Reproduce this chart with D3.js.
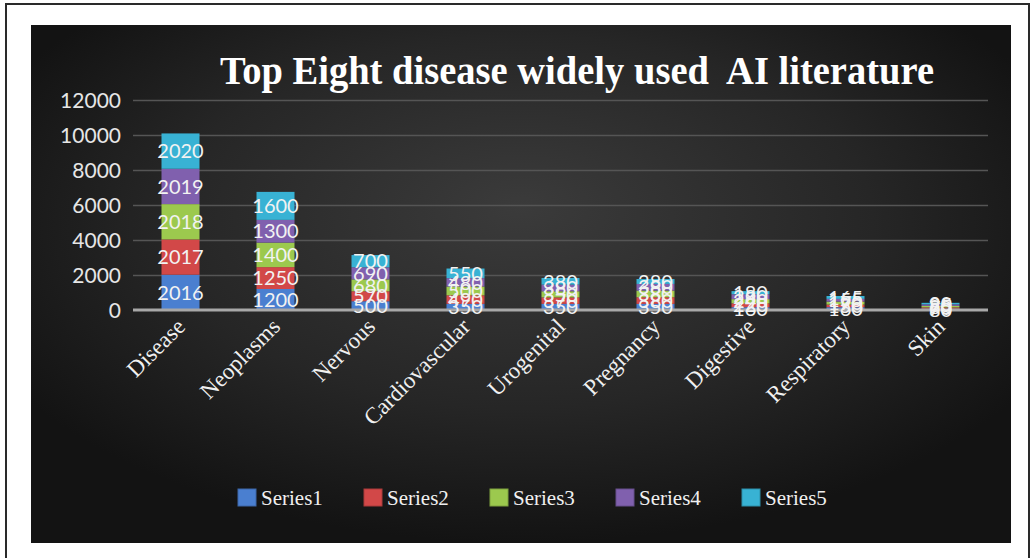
<!DOCTYPE html>
<html>
<head>
<meta charset="utf-8">
<script src="https://cdn.jsdelivr.net/npm/d3@7"></script>
<style>
  html, body { margin: 0; padding: 0; background: #fff; }
  svg { display: block; }
</style>
</head>
<body>
<svg id="chart" width="1036" height="558"></svg>
<script>
// Categories and per-series counts (stacked bottom to top: Series1..Series5)
const categories = ["Disease", "Neoplasms", "Nervous", "Cardiovascular", "Urogenital", "Pregnancy", "Digestive", "Respiratory", "Skin"];
const seriesNames = ["Series1", "Series2", "Series3", "Series4", "Series5"];
const series1 = [2016, 1200, 500, 350, 350, 350, 160, 160, 80];
const series2 = [2017, 1250, 570, 490, 370, 380, 220, 150, 70];
const series3 = [2018, 1400, 680, 500, 350, 380, 240, 170, 85];
const series4 = [2019, 1300, 690, 480, 380, 380, 280, 155, 85];
const series5 = [2020, 1600, 700, 550, 380, 280, 180, 165, 90];
const yTicks = [0, 2000, 4000, 6000, 8000, 10000, 12000];
const seriesColors = ["#4a7fd0", "#d24848", "#9cc94e", "#8060ae", "#38b2d4"];
const titleText = "Top Eight disease widely used  AI literature";

const allSeries = [series1, series2, series3, series4, series5];
const rows = categories.map((c, i) => {
  const r = { category: c };
  seriesNames.forEach((s, k) => { r[s] = allSeries[k][i]; });
  return r;
});

const svg = d3.select("#chart");

// Background gradient for the dark panel
const defs = svg.append("defs");
const grad = defs.append("radialGradient")
  .attr("id", "panelBg")
  .attr("cx", "50%").attr("cy", "40%").attr("r", "60%")
  .attr("fx", "50%").attr("fy", "35%");
grad.append("stop").attr("offset", "0%").attr("stop-color", "#3b3b3b");
grad.append("stop").attr("offset", "60%").attr("stop-color", "#262626");
grad.append("stop").attr("offset", "100%").attr("stop-color", "#131313");

// Outer frame
svg.append("rect")
  .attr("x", 6).attr("y", 4).attr("width", 1023).attr("height", 560)
  .attr("fill", "#fff").attr("stroke", "#2a2a2a").attr("stroke-width", 2);

// Dark chart panel
svg.append("rect")
  .attr("x", 31).attr("y", 25).attr("width", 980).attr("height", 518)
  .attr("fill", "url(#panelBg)");

// Title (tall, condensed serif)
svg.append("text")
  .attr("x", 220).attr("y", 84)
  .attr("fill", "#ffffff")
  .attr("font-family", "'Liberation Serif', 'Times New Roman', serif")
  .attr("font-weight", "bold")
  .attr("font-size", 40)
  .attr("textLength", 714)
  .attr("lengthAdjust", "spacingAndGlyphs")
  .style("white-space", "pre")
  .text(titleText);

// Scales
const x = d3.scaleBand()
  .domain(categories)
  .range([133, 988])
  .paddingInner(0.6)
  .paddingOuter(0.3);

const y = d3.scaleLinear()
  .domain([0, 12000])
  .range([310, 100]);

// Gridlines
const gridG = svg.append("g")
  .attr("transform", "translate(133,0)")
  .call(d3.axisLeft(y).tickValues(yTicks).tickSize(-855).tickFormat(""));
gridG.select(".domain").remove();
gridG.selectAll(".tick line")
  .attr("stroke", "#555")
  .attr("stroke-width", 1.5)
  .filter(d => d === 0).remove();

// Y axis labels
const yAxis = svg.append("g")
  .attr("transform", "translate(121,0)")
  .call(d3.axisLeft(y).tickValues(yTicks).tickSize(0).tickPadding(0).tickFormat(d3.format("d")));
yAxis.select(".domain").remove();
yAxis.selectAll("text")
  .attr("fill", "#e6e6e6")
  .attr("font-family", "Lato, 'Liberation Sans', sans-serif")
  .attr("font-size", 21)
  .attr("dy", "0.35em");

// Stacked bars
const stack = d3.stack().keys(seriesNames);
const layers = stack(rows);

const layerG = svg.append("g").selectAll("g")
  .data(layers)
  .join("g")
  .attr("fill", (d, i) => seriesColors[i]);

layerG.selectAll("rect")
  .data(d => d.map(p => ({ p, cat: p.data.category })))
  .join("rect")
  .attr("x", d => x(d.cat))
  .attr("width", x.bandwidth())
  .attr("y", d => y(d.p[1]))
  .attr("height", d => y(d.p[0]) - y(d.p[1]));

// Baseline
svg.append("line")
  .attr("x1", 133).attr("x2", 988)
  .attr("y1", y(0)).attr("y2", y(0))
  .attr("stroke", "#a8a8a8").attr("stroke-width", 3);

// Value labels on each segment
const labelG = svg.append("g");
layers.forEach((layer, k) => {
  labelG.selectAll(null)
    .data(layer)
    .join("text")
    .attr("x", d => x(d.data.category) + x.bandwidth() / 2)
    .attr("y", d => (y(d[0]) + y(d[1])) / 2)
    .attr("dy", "0.36em")
    .attr("text-anchor", "middle")
    .attr("fill", "#f2f2f2")
    .attr("font-family", "Lato, 'Liberation Sans', sans-serif")
    .attr("font-size", 20)
    .text(d => d.data[seriesNames[k]]);
});

// Category labels, rotated
svg.append("g").selectAll("text")
  .data(categories)
  .join("text")
  .attr("transform", d => `translate(${x(d) + x.bandwidth() / 2 + 6},${328}) rotate(-45)`)
  .attr("text-anchor", "end")
  .attr("fill", "#f0f0f0")
  .attr("font-family", "'Liberation Serif', 'Times New Roman', serif")
  .attr("font-size", 23)
  .text(d => d);

// Legend
const legend = svg.append("g").attr("transform", "translate(238,489)");
const item = legend.selectAll("g")
  .data(seriesNames)
  .join("g")
  .attr("transform", (d, i) => `translate(${i * 126},0)`);
item.append("rect")
  .attr("width", 18).attr("height", 17)
  .attr("fill", (d, i) => seriesColors[i])
  .attr("stroke", (d, i) => d3.color(seriesColors[i]).darker(0.6))
  .attr("stroke-width", 1);
item.append("text")
  .attr("x", 23).attr("y", 9)
  .attr("dy", "0.35em")
  .attr("fill", "#f0f0f0")
  .attr("font-family", "'Liberation Serif', 'Times New Roman', serif")
  .attr("font-size", 21)
  .text(d => d);
</script>
</body>
</html>
